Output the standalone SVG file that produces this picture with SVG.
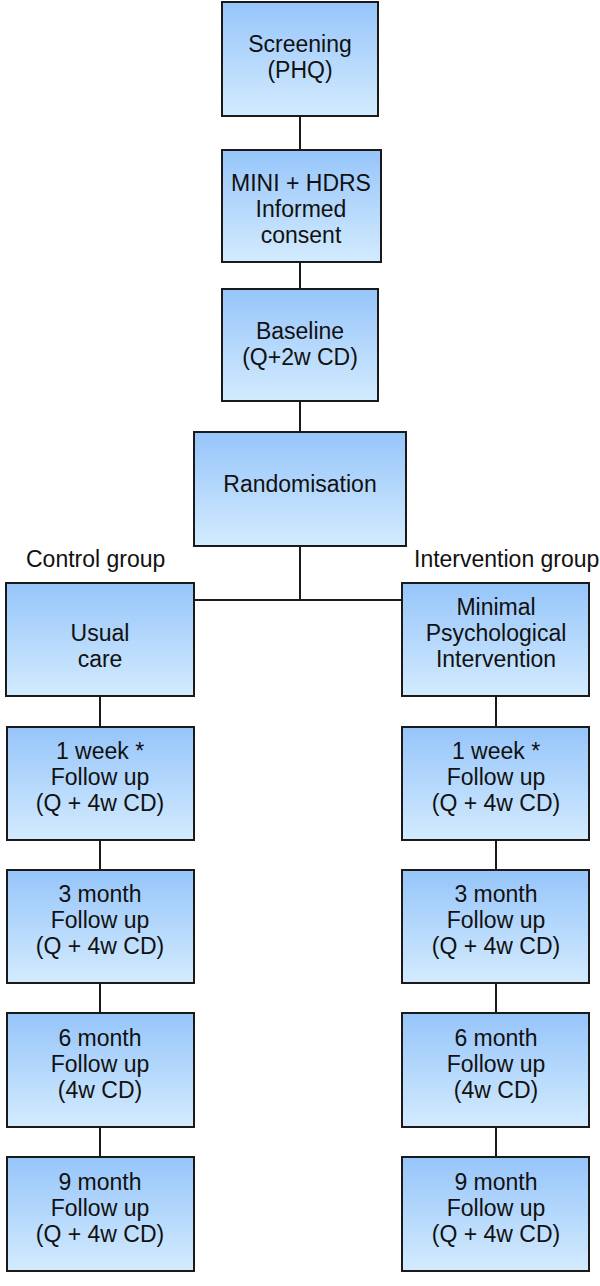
<svg xmlns="http://www.w3.org/2000/svg" width="600" height="1286" viewBox="0 0 600 1286">
<defs>
<linearGradient id="g" x1="0" y1="0" x2="0" y2="1">
<stop offset="0" stop-color="#96c5fa"/>
<stop offset="1" stop-color="#d3ebfe"/>
</linearGradient>
<style>
.b{fill:url(#g);stroke:#1a1a1a;stroke-width:2}
.t{font-family:"Liberation Sans",Arial,sans-serif;font-size:23px;fill:#111;text-anchor:middle}
.l{font-family:"Liberation Sans",Arial,sans-serif;font-size:23px;fill:#111}
.c{stroke:#1a1a1a;stroke-width:2;fill:none}
</style>
</defs>
<rect width="600" height="1286" fill="#fff"/>
<g id="connectors">
<line class="c" x1="300" y1="116" x2="300" y2="150"/>
<line class="c" x1="300" y1="262" x2="300" y2="289"/>
<line class="c" x1="300" y1="401" x2="300" y2="432"/>
<line class="c" x1="300" y1="546" x2="300" y2="600"/>
<line class="c" x1="194" y1="600" x2="402" y2="600"/>
<line class="c" x1="100" y1="696" x2="100" y2="727"/>
<line class="c" x1="100" y1="840" x2="100" y2="870"/>
<line class="c" x1="100" y1="983" x2="100" y2="1013"/>
<line class="c" x1="100" y1="1127" x2="100" y2="1157"/>
<line class="c" x1="496" y1="696" x2="496" y2="727"/>
<line class="c" x1="496" y1="840" x2="496" y2="870"/>
<line class="c" x1="496" y1="983" x2="496" y2="1013"/>
<line class="c" x1="496" y1="1127" x2="496" y2="1157"/>
</g>
<g id="screening"><rect class="b" x="222" y="2" width="156" height="114"/><text class="t" x="300" y="52">Screening</text><text class="t" x="300" y="78">(PHQ)</text></g>
<g id="mini"><rect class="b" x="222" y="150" width="159" height="112"/><text class="t" x="301" y="191">MINI + HDRS</text><text class="t" x="301" y="217">Informed</text><text class="t" x="301" y="243">consent</text></g>
<g id="baseline"><rect class="b" x="222" y="289" width="156" height="112"/><text class="t" x="300" y="339">Baseline</text><text class="t" x="300" y="365">(Q+2w CD)</text></g>
<g id="randomisation"><rect class="b" x="194" y="432" width="212" height="114"/><text class="t" x="300" y="492">Randomisation</text></g>
<g id="control-label"><text class="l" x="26" y="567">Control group</text></g>
<g id="intervention-label"><text class="l" x="414" y="567">Intervention group</text></g>
<g id="usual-care"><rect class="b" x="6" y="583" width="188" height="113"/><text class="t" x="100" y="641">Usual</text><text class="t" x="100" y="667">care</text></g>
<g id="mpi"><rect class="b" x="402" y="583" width="187" height="113"/><text class="t" x="496" y="615">Minimal</text><text class="t" x="496" y="641">Psychological</text><text class="t" x="496" y="667">Intervention</text></g>
<g id="c-1w"><rect class="b" x="7" y="727" width="187" height="113"/><text class="t" x="100" y="759">1 week *</text><text class="t" x="100" y="785">Follow up</text><text class="t" x="100" y="811">(Q + 4w CD)</text></g>
<g id="i-1w"><rect class="b" x="402" y="727" width="187" height="113"/><text class="t" x="496" y="759">1 week *</text><text class="t" x="496" y="785">Follow up</text><text class="t" x="496" y="811">(Q + 4w CD)</text></g>
<g id="c-3m"><rect class="b" x="7" y="870" width="187" height="113"/><text class="t" x="100" y="902">3 month</text><text class="t" x="100" y="928">Follow up</text><text class="t" x="100" y="954">(Q + 4w CD)</text></g>
<g id="i-3m"><rect class="b" x="402" y="870" width="187" height="113"/><text class="t" x="496" y="902">3 month</text><text class="t" x="496" y="928">Follow up</text><text class="t" x="496" y="954">(Q + 4w CD)</text></g>
<g id="c-6m"><rect class="b" x="7" y="1013" width="187" height="114"/><text class="t" x="100" y="1046">6 month</text><text class="t" x="100" y="1072">Follow up</text><text class="t" x="100" y="1098">(4w CD)</text></g>
<g id="i-6m"><rect class="b" x="402" y="1013" width="187" height="114"/><text class="t" x="496" y="1046">6 month</text><text class="t" x="496" y="1072">Follow up</text><text class="t" x="496" y="1098">(4w CD)</text></g>
<g id="c-9m"><rect class="b" x="7" y="1157" width="187" height="114"/><text class="t" x="100" y="1190">9 month</text><text class="t" x="100" y="1216">Follow up</text><text class="t" x="100" y="1242">(Q + 4w CD)</text></g>
<g id="i-9m"><rect class="b" x="402" y="1157" width="187" height="114"/><text class="t" x="496" y="1190">9 month</text><text class="t" x="496" y="1216">Follow up</text><text class="t" x="496" y="1242">(Q + 4w CD)</text></g>
</svg>
